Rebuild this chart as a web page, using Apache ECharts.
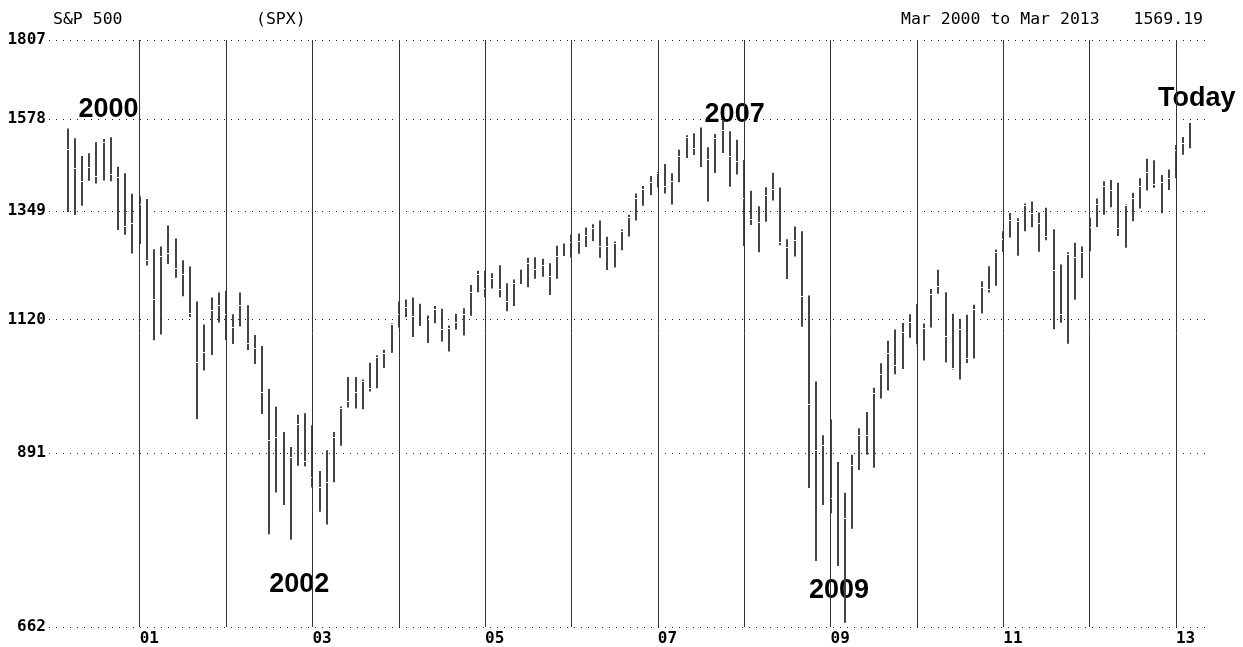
<!DOCTYPE html>
<html>
<head>
<meta charset="utf-8">
<script src="https://cdn.jsdelivr.net/npm/echarts@6/dist/echarts.min.js"></script>
<style>
html,body{margin:0;padding:0;background:#fff;}
#chart{width:1243px;height:647px;}
</style>
</head>
<body>
<div id="chart"></div>
<script>
// Monthly S&P 500 bars, Mar 2000 .. Mar 2013 (index 0 = Mar 2000)
const startMonth = 'Mar 2000';
const highs = [
  1552.9,1527.2,1481.5,1488.9,1517.3,1525.2,1530.1,1454.8,1438.5,1389.1,
  1383.4,1376.7,1263.5,1269.3,1315.9,1286.6,1239.8,1226.3,1155.4,1110.6,1163.4,1173.0,
  1176.6,1130.2,1173.0,1147.8,1091.0,1070.7,994.5,965.0,924.0,900.9,951.6,954.3,
  935.0,864.6,895.9,924.2,965.4,1015.3,1015.4,1011.0,1040.3,1053.8,1063.7,1112.6,
  1155.4,1159.0,1163.2,1150.6,1127.7,1146.3,1140.8,1108.6,1131.5,1142.1,1188.5,1217.9,
  1217.8,1212.4,1229.1,1191.9,1199.6,1219.6,1245.2,1245.9,1243.1,1233.3,1270.6,1275.8,
  1294.9,1297.6,1310.9,1318.2,1326.7,1290.7,1280.4,1306.7,1340.3,1389.5,1407.9,1431.8,
  1441.6,1461.6,1438.9,1498.0,1535.6,1540.6,1555.9,1503.9,1538.7,1576.1,1545.8,1523.6,
  1471.8,1396.0,1359.7,1404.6,1440.2,1404.1,1285.0,1313.2,1303.0,1167.0,1007.5,918.9,
  943.9,877.9,833.0,888.7,930.2,956.2,996.7,1039.5,1080.2,1101.4,1113.7,1130.4,
  1150.5,1112.4,1180.2,1219.8,1173.6,1131.2,1121.0,1129.2,1148.9,1196.1,1227.1,1262.6,
  1302.7,1344.1,1332.3,1366.0,1370.6,1345.2,1356.5,1307.4,1230.7,1256.6,1277.6,1269.4,
  1333.5,1378.0,1419.2,1422.4,1415.3,1363.5,1391.7,1426.7,1474.5,1471.0,1434.3,1448.0,
  1509.9,1530.9,1570.3
];
const lows = [
  1346.6,1339.4,1361.1,1420.6,1413.9,1421.1,1419.4,1305.8,1294.9,1254.1,
  1274.6,1228.4,1081.2,1091.9,1232.0,1203.0,1165.5,1124.9,944.8,1026.8,1054.3,1114.3,
  1081.7,1074.4,1106.7,1063.5,1038.3,952.9,775.7,833.4,815.3,768.6,872.1,871.4,
  840.3,806.3,788.9,847.9,902.8,963.6,962.1,960.8,990.4,995.9,1031.2,1058.2,
  1105.1,1124.4,1087.2,1107.2,1076.3,1113.3,1078.8,1060.7,1101.3,1090.2,1127.6,1173.8,
  1163.8,1181.0,1163.7,1136.2,1146.2,1188.3,1183.6,1201.1,1205.4,1168.2,1201.1,1246.6,
  1245.7,1253.6,1268.4,1280.7,1245.3,1219.3,1224.5,1261.3,1290.9,1327.1,1361.0,1385.9,
  1404.0,1389.4,1364.0,1416.4,1476.7,1484.2,1454.3,1370.6,1439.3,1489.6,1406.1,1435.7,
  1270.1,1316.8,1257.0,1324.4,1373.1,1272.0,1200.4,1247.5,1106.4,839.8,741.0,815.7,
  804.3,734.5,666.8,783.3,866.1,888.9,869.3,978.5,992.0,1020.2,1029.4,1085.9,
  1071.6,1044.5,1105.2,1170.7,1040.8,1028.3,1010.9,1039.7,1048.1,1131.9,1173.0,1186.6,
  1257.6,1289.1,1249.1,1302.8,1311.8,1258.1,1282.9,1101.5,1114.2,1074.8,1158.7,1202.4,
  1258.9,1312.4,1340.0,1357.4,1292.0,1266.7,1325.4,1354.7,1396.6,1403.3,1343.4,1398.1,
  1426.2,1485.0,1501.5
];
const closes = [
  1498.6,1452.4,1420.6,1454.6,1430.8,1517.7,1436.5,1429.4,1315.2,1320.3,
  1366.0,1239.9,1160.3,1249.5,1255.8,1224.4,1211.2,1133.6,1040.9,1059.8,1139.5,1148.1,
  1130.2,1106.7,1147.4,1076.9,1067.1,989.8,911.6,916.1,815.3,885.8,936.3,879.8,
  855.7,841.2,848.2,916.9,963.6,974.5,990.3,1008.0,996.0,1050.7,1058.2,1111.9,
  1131.1,1144.9,1126.2,1107.3,1120.7,1140.8,1101.7,1104.2,1114.6,1130.2,1173.8,1211.9,
  1181.3,1203.6,1180.6,1156.9,1191.5,1191.3,1234.2,1220.3,1228.8,1207.0,1249.5,1248.3,
  1280.1,1280.7,1294.8,1310.6,1270.1,1270.2,1276.7,1303.8,1335.9,1377.9,1400.6,1418.3,
  1438.2,1406.8,1420.9,1482.4,1530.6,1503.4,1455.3,1474.0,1526.8,1549.4,1481.1,1468.4,
  1378.6,1330.6,1322.7,1385.6,1400.4,1280.0,1267.4,1282.8,1166.4,968.8,896.2,903.3,
  825.9,735.1,797.9,872.8,919.1,919.3,987.5,1020.6,1057.1,1036.2,1095.6,1115.1,
  1073.9,1104.5,1169.4,1186.7,1089.4,1030.7,1101.6,1049.3,1141.2,1183.3,1180.6,1257.6,
  1286.1,1327.2,1325.8,1363.6,1345.2,1320.6,1292.3,1219.0,1131.4,1253.3,1247.0,1257.6,
  1312.4,1365.7,1408.5,1397.9,1310.3,1362.2,1379.3,1406.6,1440.7,1412.2,1416.2,1426.2,
  1498.1,1514.7,1569.2
];
// y tick values (log scale)
const yTicks = [662, 891, 1120, 1349, 1578, 1807];
// January positions (month index) for vertical year lines
const yearLineIdx = [10, 22, 34, 46, 58, 70, 82, 94, 106, 118, 130, 142, 154];
// labelled year lines
const xTickIdx = [10, 34, 58, 82, 106, 130, 154];
const xTickLabels = ['01', '03', '05', '07', '09', '11', '13'];
// annotations
const annotations = [
  {text: '2000', idx: 1.5, value: 1605},
  {text: '2002', idx: 28, value: 712},
  {text: '2007', idx: 88.5, value: 1590},
  {text: '2009', idx: 103, value: 705},
  {text: 'Today', idx: 151.5, value: 1635}
];
const headerLeft = 'S&P 500';
const headerSym = '(SPX)';
const headerRange = 'Mar 2000 to Mar 2013';
const lastValue = '1569.19';

const data = highs.map((h, i) => [i, lows[i], h, closes[i]]);

const MONO = '"DejaVu Sans Mono", "Liberation Mono", monospace';
const chart = echarts.init(document.getElementById('chart'), null, {renderer: 'canvas'});

const option = {
  animation: false,
  backgroundColor: '#fff',
  grid: {left: 49, right: 36, top: 40, bottom: 17, containLabel: false},
  xAxis: {
    type: 'value', min: -2.6, max: 158.31,
    axisLine: {show: false}, axisTick: {show: false}, splitLine: {show: false},
    axisLabel: {
      customValues: xTickIdx,
      formatter: v => xTickLabels[xTickIdx.indexOf(v)] || '',
      align: 'left', margin: 4,
      fontFamily: MONO, fontSize: 16, fontWeight: 'bold', color: '#000'
    }
  },
  yAxis: {
    type: 'log', logBase: 10, min: 662, max: 1807,
    axisLine: {show: false}, axisTick: {show: false}, splitLine: {show: false},
    axisLabel: {show: false}
  },
  series: [{
    type: 'custom',
    data: data,
    encode: {x: 0, y: [1, 2]},
    clip: false,
    renderItem: function (params, api) {
      const x = api.value(0);
      const lo = api.coord([x, api.value(1)]);
      const hi = api.coord([x, api.value(2)]);
      const cl = api.coord([x, api.value(3)]);
      const px = Math.round(lo[0]) - 1;
      return {
        type: 'group',
        children: [
          {type: 'rect', shape: {x: px, y: hi[1], width: 2, height: lo[1] - hi[1]},
           style: {fill: '#444'}},
          {type: 'rect', shape: {x: px, y: Math.round(cl[1]), width: 2, height: 1},
           style: {fill: '#ffffff'}}
        ]
      };
    },
    markLine: {
      silent: true, symbol: 'none', animation: false,
      data: [
        ...yTicks.map(v => ({yAxis: v,
          lineStyle: {type: [1, 6], color: '#222', width: 1},
          label: {show: true, position: 'start', distance: 3, formatter: String(v),
            fontFamily: MONO, fontSize: 16, fontWeight: 'bold', color: '#000'}})),
        ...yearLineIdx.map(i => ({xAxis: i,
          lineStyle: {type: 'solid', color: '#333', width: 1},
          label: {show: false}}))
      ]
    }
  }],
  graphic: [
    {type: 'text', left: 53, top: 11, style: {text: headerLeft, font: '16.5px ' + MONO, fill: '#000'}},
    {type: 'text', left: 256, top: 11, style: {text: headerSym, font: '16.5px ' + MONO, fill: '#000'}},
    {type: 'text', left: 901, top: 11, style: {text: headerRange, font: '16.5px ' + MONO, fill: '#000'}},
    {type: 'text', right: 40, top: 11, style: {text: lastValue, font: '16.5px ' + MONO, fill: '#000'}}
  ]
};
chart.setOption(option);

// annotation labels placed through the chart's coordinate system
const annGraphics = annotations.map(a => {
  const p = chart.convertToPixel({gridIndex: 0}, [a.idx, a.value]);
  return {type: 'text', x: p[0], y: p[1],
    style: {text: a.text, font: 'bold 27px "Liberation Sans", Arial, sans-serif', fill: '#000',
      textVerticalAlign: 'middle', textAlign: 'left'}};
});
chart.setOption({graphic: option.graphic.concat(annGraphics)});
</script>
</body>
</html>
